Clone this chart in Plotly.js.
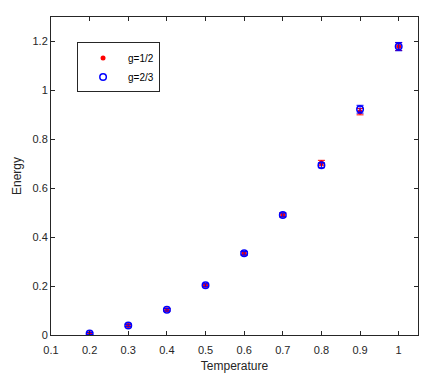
<!DOCTYPE html>
<html>
<head>
<meta charset="utf-8">
<script src="https://cdn.plot.ly/plotly-3.0.1.min.js"></script>
<style>
  html, body { margin: 0; padding: 0; background: #fff; }
  #chart { width: 436px; height: 381px; }
</style>
</head>
<body>
<div id="chart"></div>
<script>
const temperature = [0.2, 0.3, 0.4, 0.5, 0.6, 0.7, 0.8, 0.9, 1.0];

const energyHalf = [0.006, 0.039, 0.103, 0.203, 0.334, 0.491, 0.703, 0.913, 1.179];
const errHalf    = [0.004, 0.005, 0.005, 0.006, 0.007, 0.008, 0.011, 0.013, 0.016];

const energyTwoThirds = [0.006, 0.039, 0.103, 0.203, 0.334, 0.491, 0.694, 0.923, 1.179];
const errTwoThirds    = [0.004, 0.005, 0.005, 0.006, 0.007, 0.008, 0.010, 0.016, 0.017];

const xTicks = [0.1, 0.2, 0.3, 0.4, 0.5, 0.6, 0.7, 0.8, 0.9, 1.0];
const xTickText = ['0.1', '0.2', '0.3', '0.4', '0.5', '0.6', '0.7', '0.8', '0.9', '1'];
const yTicks = [0, 0.2, 0.4, 0.6, 0.8, 1.0, 1.2];
const yTickText = ['0', '0.2', '0.4', '0.6', '0.8', '1', '1.2'];

const RED  = '#ff0000';
const BLUE = '#0000ff';
const AXIS = '#262626';

const traces = [
    {
        x: temperature, y: energyHalf,
        type: 'scatter', mode: 'markers', name: 'g=1/2',
        marker: { color: RED, size: 5, symbol: 'circle' },
        error_y: { type: 'data', array: errHalf, visible: true, color: RED, thickness: 1, width: 3.5 }
    },
    {
        x: temperature, y: energyTwoThirds,
        type: 'scatter', mode: 'markers', name: 'g=2/3',
        marker: { color: BLUE, size: 6.5, symbol: 'circle-open', line: { color: BLUE, width: 1.5 } },
        error_y: { type: 'data', array: errTwoThirds, visible: true, color: BLUE, thickness: 1, width: 3.5 }
    }
];

const axisBase = {
    showgrid: false, zeroline: false,
    showline: true, linecolor: AXIS, linewidth: 1, mirror: 'ticks',
    ticks: 'inside', ticklen: 4, tickcolor: AXIS, tickwidth: 1,
    tickfont: { family: 'Liberation Sans, Arial, sans-serif', size: 11, color: AXIS }
};

const layout = {
    width: 436, height: 381,
    margin: { l: 51, r: 18, t: 17, b: 46 },
    paper_bgcolor: '#fff', plot_bgcolor: '#fff',
    font: { family: 'Liberation Sans, Arial, sans-serif', color: AXIS },
    showlegend: true,
    legend: {
        x: 0.071, y: 0.92, xanchor: 'left', yanchor: 'top',
        bgcolor: '#fff', bordercolor: AXIS, borderwidth: 1,
        font: { size: 10, color: '#000' },
        itemwidth: 40,
        tracegroupgap: 0
    },
    xaxis: Object.assign({}, axisBase, {
        range: [0.1, 1.05], tickvals: xTicks, ticktext: xTickText,
        ticklabelstandoff: 5,
        title: { text: 'Temperature', font: { size: 12, color: AXIS }, standoff: 6 }
    }),
    yaxis: Object.assign({}, axisBase, {
        range: [0, 1.3], tickvals: yTicks, ticktext: yTickText,
        title: { text: 'Energy', font: { size: 12, color: AXIS }, standoff: 8 }
    })
};

Plotly.newPlot('chart', traces, layout, { displayModeBar: false, staticPlot: true });
</script>
</body>
</html>
